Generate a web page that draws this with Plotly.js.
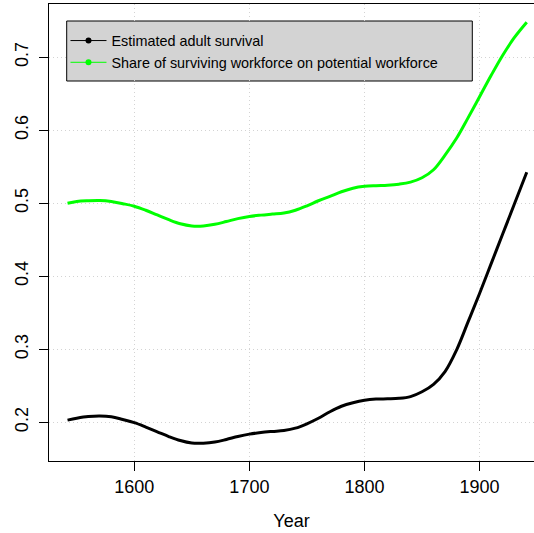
<!DOCTYPE html>
<html>
<head>
<meta charset="utf-8">
<script src="https://cdn.plot.ly/plotly-3.0.1.min.js"></script>
<style>
html,body{margin:0;padding:0;background:#fff;}
#chart{width:534px;height:533px;}
</style>
</head>
<body>
<div id="chart"></div>
<script>
const years = [1542,1550,1560,1570,1580,1590,1600,1610,1620,1630,1640,1650,1660,1670,1680,1690,1700,1710,1720,1730,1740,1750,1760,1770,1780,1790,1800,1810,1820,1830,1840,1850,1860,1870,1880,1890,1900,1910,1920,1930,1941];
const adultSurvival = [0.203,0.2055,0.2078,0.2086,0.2075,0.2038,0.1995,0.1935,0.187,0.1805,0.175,0.1716,0.1714,0.173,0.1765,0.1805,0.1838,0.186,0.1875,0.1888,0.192,0.198,0.2055,0.2145,0.222,0.2268,0.2302,0.2318,0.2322,0.2328,0.2352,0.2418,0.252,0.2695,0.299,0.3375,0.3765,0.417,0.4575,0.498,0.5425];
const workforceShare = [0.500,0.5025,0.5035,0.5038,0.5025,0.4995,0.496,0.4905,0.484,0.4775,0.472,0.469,0.469,0.4712,0.475,0.479,0.482,0.4838,0.4852,0.4866,0.4905,0.4965,0.5035,0.5095,0.5158,0.5206,0.5232,0.5242,0.5248,0.5262,0.529,0.535,0.546,0.566,0.589,0.617,0.646,0.675,0.7025,0.7265,0.748];
const seriesNames = ["Estimated adult survival","Share of surviving workforce on potential workforce"];
const seriesColors = ["#000000","#00ff00"];
const xTicks = [1600,1700,1800,1900];
const yTicks = [0.2,0.3,0.4,0.5,0.6,0.7];

const FONT = "Liberation Sans, Arial, Helvetica, sans-serif";
const series = [adultSurvival, workforceShare];
const traces = [];
series.forEach((vals,i)=>{
  traces.push({x:years,y:vals,type:'scatter',mode:'lines',line:{color:seriesColors[i],width:3,shape:'spline',smoothing:1},showlegend:false,hoverinfo:'skip'});
});
series.forEach((vals,i)=>{
  traces.push({x:[null],y:[null],type:'scatter',mode:'lines+markers',name:seriesNames[i],line:{color:seriesColors[i],width:1},marker:{color:seriesColors[i],size:6},showlegend:true});
});

const layout = {
  width:534,height:533,
  margin:{l:49,r:0,t:4,b:72,pad:0},
  paper_bgcolor:'#fff',plot_bgcolor:'#fff',
  font:{family:FONT,size:18,color:'#000'},
  showlegend:true,
  legend:{x:0.034,y:0.9547,xanchor:'left',yanchor:'top',bgcolor:'rgba(0,0,0,0)',borderwidth:0,font:{family:FONT,size:14.4,color:'#000'},tracegroupgap:0,itemwidth:36},
  xaxis:{range:[1525.9,1947.3],tickvals:xTicks,ticktext:xTicks.map(String),ticks:'outside',ticklen:9,tickcolor:'#000',showline:true,linecolor:'#000',linewidth:1,mirror:true,zeroline:false,showgrid:true,gridcolor:'#d3d3d3',griddash:'1px,3px',gridwidth:1,title:{text:'Year',font:{size:18},standoff:18},tickfont:{size:18}},
  yaxis:{range:[0.147,0.773],tickvals:yTicks,ticktext:yTicks.map(v=>v.toFixed(1)),ticks:'outside',ticklen:9,tickcolor:'#000',tickangle:-90,ticklabelstandoff:4,showline:true,linecolor:'#000',linewidth:1,mirror:false,zeroline:false,showgrid:true,gridcolor:'#d3d3d3',griddash:'1px,3px',gridwidth:1,tickfont:{size:18}},
  shapes:[{type:'rect',xref:'paper',yref:'paper',x0:(66.7-49)/485,x1:(472.3-49)/485,y0:1-(81-4)/457,y1:1-(21-4)/457,fillcolor:'#d3d3d3',line:{color:'#000',width:1},layer:'between'}]
};
Plotly.newPlot('chart',traces,layout,{displayModeBar:false,staticPlot:true});
</script>
</body>
</html>
